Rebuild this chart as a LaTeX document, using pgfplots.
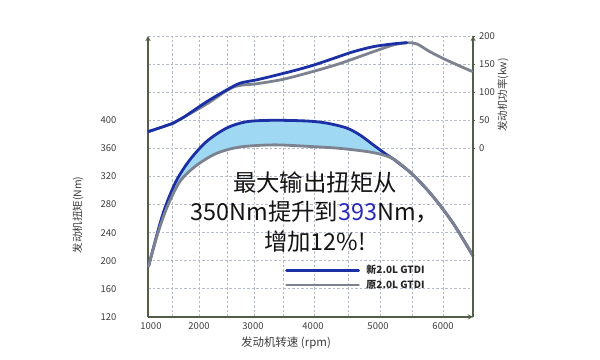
\documentclass[border=0pt]{standalone}
\usepackage{fontspec}
\setmainfont{Noto Sans CJK SC}
\usepackage{pgfplots}
\usepackage{pgfplotstable}
\pgfplotsset{compat=1.18}
\usepgfplotslibrary{fillbetween}
\usetikzlibrary{arrows.meta}
\definecolor{newblue}{RGB}{28,48,165}
\definecolor{oldgray}{RGB}{125,130,145}
\definecolor{fillblue}{RGB}{158,216,243}
\definecolor{gridcol}{RGB}{180,186,200}
\definecolor{axiscol}{RGB}{82,94,72}
\definecolor{tickcol}{RGB}{60,60,60}
\definecolor{numblue}{RGB}{40,40,185}

% x is the position along the (non-uniform) speed scale of the original chart:
% 1000 rpm -> 151, 2000 -> 199, 3000 -> 253, 4000 -> 313, 5000 -> 378, 6000 -> 443
\pgfplotstableread{
x y
148.5 192
160 253
166.7 282
176.7 315
190 344
206.7 370
226.7 389
246.7 398
273.3 400
306.7 399
326.7 396
346.7 389
360 379
373.3 365
386.7 351
393.3 345
413.3 322
433.3 291
453.3 253
473 207
}\newT
\pgfplotstableread{
x y
148.5 192
156.7 234
166.7 275
180 313
196.7 336
216.7 353
240 362
273.3 365
306.7 363
340 360
373.3 354
393.3 345
413.3 322
433.3 291
453.3 253
473 207
}\oldT
\pgfplotstableread{
x y
148.5 30
173.3 45
183.3 55
206.7 83
226.7 104
240 116
256.7 122
273.3 129
293.3 138
313.3 148
333.3 160
353.3 172
373.3 181
393.3 186
406.7 188
}\newP
\pgfplotstableread{
x y
148.5 30
173.3 45
183.3 55
206.7 79
233.3 109
256.7 115
283.3 123
313.3 137
340 151
373.3 172
393.3 184
406.7 188
416.7 186
430 172
446.7 157
472 137
}\oldP

\pgfplotsset{rpmaxis/.style={
  scale only axis, width=325bp, height=281bp,
  xmin=148, xmax=473,
  clip=false,
  /pgf/number format/assume math mode=true,
  axis line style={draw=axiscol, line width=1.3bp, -{Stealth[length=6bp,width=4.5bp]}},
}}

\begin{document}
\begin{tikzpicture}
\begin{axis}[rpmaxis,
  ymin=120, ymax=520,
  axis x line=bottom, axis y line=left,
  xtick={172,199,227,254,283,314,348,380,412,443},
  xticklabels={,,,,,,,,,},
  extra x ticks={151,199,253,313,378,443},
  extra x tick labels={1000,2000,3000,4000,5000,6000},
  extra x tick style={grid=none},
  ytick={120,160,200,240,280,320,360,400,440,480,520},
  yticklabels={120,160,200,240,280,320,360,400,,,},
  grid=major,
  grid style={draw=gridcol, dash pattern=on 2.5bp off 2bp, line width=0.8bp},
  major tick length=0pt,
  xticklabel style={font=\fontsize{9.5}{11}\selectfont, text=tickcol, yshift=-2bp},
  yticklabel style={font=\fontsize{9.5}{11}\selectfont, text=tickcol, xshift=-28bp},
  every axis y label/.style={at={(rel axis cs:-0.2154,0.363)}, anchor=center, rotate=90, font=\fontsize{10.5}{12}\selectfont, text=tickcol},
  ylabel={发动机扭矩(Nm)},
  every axis x label/.style={at={(rel axis cs:0.4246,-0.0925)}, anchor=center, font=\fontsize{11.5}{13}\selectfont, text=tickcol},
  xlabel={发动机转速 (rpm)},
  legend style={at={(0.4215,0.1406)}, anchor=west, draw=none, fill=none, inner sep=0pt,
    font=\fontsize{10}{11}\selectfont\bfseries, text=black!85, row sep=2bp,
    nodes={inner sep=1.5bp}},
  legend cell align=left,
  legend image code/.code={\draw[#1] (0bp,0bp) -- (72bp,0bp);},
  /tikz/every odd column/.append style={column sep=5bp},
]
\path (rel axis cs:-0.45538,-0.15302) rectangle (rel axis cs:1.39077,1.12811);
\addplot[name path=newT, draw=none, forget plot, smooth] table[x=x,y=y] {\newT};
\addplot[name path=oldT, draw=none, forget plot, smooth] table[x=x,y=y] {\oldT};
\addplot[fill=fillblue, draw=none, forget plot] fill between[of=newT and oldT];
\addplot[newblue, line width=2.8bp, smooth, line join=round, line cap=round] table[x=x,y=y] {\newT};
\addlegendentry{新2.0L GTDI}
\addplot[oldgray, line width=2.8bp, smooth, line join=round, line cap=round] table[x=x,y=y] {\oldT};
\addlegendentry{原2.0L GTDI}
\node[align=center, font=\fontsize{23.5}{30}\selectfont, text=black!92] at (rel axis cs:0.5138,0.3737)
  {最大输出扭矩从\\350Nm提升到\textcolor{numblue}{393}Nm，\\增加12\%!};
\end{axis}
\begin{axis}[rpmaxis,
  ymin=-300, ymax=200,
  axis x line=none, axis y line=right,
  ytick={0,50,100,150,200},
  yticklabels={0,50,100,150,200},
  major tick length=3bp,
  tick style={draw=axiscol, line width=0.8bp},
  yticklabel style={font=\fontsize{9.5}{11}\selectfont, text=tickcol, xshift=1bp},
  every axis y label/.style={at={(rel axis cs:1.0923,0.79)}, anchor=center, rotate=90, font=\fontsize{10.5}{12}\selectfont, text=tickcol},
  ylabel={发动机功率(kw)},
]
\addplot[oldgray, line width=2.8bp, smooth, line join=round, line cap=round] table[x=x,y=y] {\oldP};
\addplot[newblue, line width=2.8bp, smooth, line join=round, line cap=round] table[x=x,y=y] {\newP};
\end{axis}
\end{tikzpicture}
\end{document}
